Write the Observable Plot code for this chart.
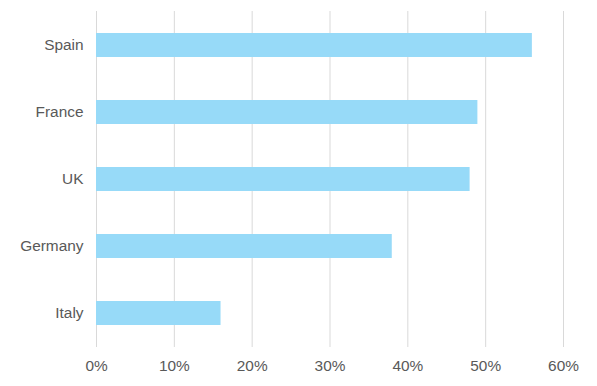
<!DOCTYPE html>
<html>
<head>
<meta charset="utf-8">
<script src="https://cdn.jsdelivr.net/npm/d3@7"></script>
<script src="https://cdn.jsdelivr.net/npm/@observablehq/plot@0.6"></script>
<style>
  html, body { margin: 0; padding: 0; background: #fff; }
  #chart svg { display: block; }
</style>
</head>
<body>
<div id="chart"></div>
<script>
const countries = ["Spain", "France", "UK", "Germany", "Italy"];
const shares = [0.56, 0.49, 0.48, 0.38, 0.16];
const xTicks = [0, 0.1, 0.2, 0.3, 0.4, 0.5, 0.6];

const data = countries.map((c, i) => ({country: c, value: shares[i]}));

const chart = Plot.plot({
  width: 597,
  height: 386,
  marginLeft: 96,
  marginRight: 34,
  marginTop: 11,
  marginBottom: 39,
  style: {fontFamily: "'Liberation Sans', Arial, sans-serif", fontSize: "15.4px", color: "#595959", background: "#fff"},
  x: {domain: [0, 0.6], ticks: xTicks, tickFormat: d3.format(".0%"), label: null},
  y: {domain: countries, paddingInner: 0.643, paddingOuter: 0.3215, label: null},
  marks: [
    Plot.gridX(xTicks, {stroke: "#d9d9d9", strokeOpacity: 1, strokeWidth: 1}),
    Plot.barX(data, {y: "country", x: "value", fill: "#97daf8"}),
    Plot.axisX({ticks: xTicks, tickFormat: d3.format(".0%"), tickSize: 0, tickPadding: 13, label: null, fill: "#595959"}),
    Plot.axisY({tickSize: 0, tickPadding: 13, label: null, fill: "#595959"})
  ]
});
document.getElementById("chart").appendChild(chart);
</script>
</body>
</html>
